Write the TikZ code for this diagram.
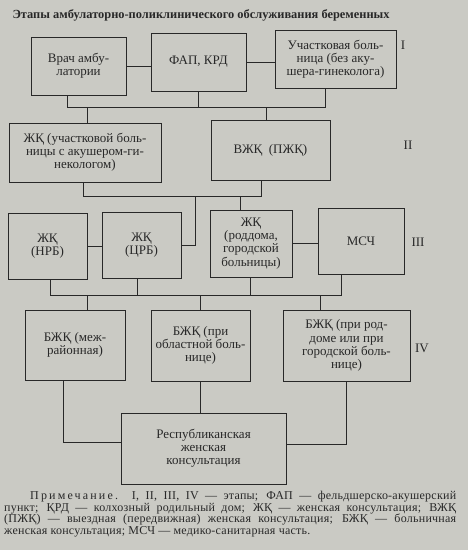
\documentclass[tikz,border=0pt]{standalone}
\usepackage{fontspec}
\setmainfont{Liberation Serif}
\usepackage{tikz}
\definecolor{paper}{RGB}{202,202,196}
\definecolor{ink}{RGB}{40,40,40}

\tikzset{
  box/.style={draw=ink, line width=0.9pt, inner sep=2pt, align=center,
    text=ink, font=\fontsize{13}{13.2}\selectfont},
  link/.style={draw=ink, line width=0.8pt},
}

\begin{document}
\begin{tikzpicture}[x=1pt,y=-1pt]
            \fill[paper] (0,0) rectangle (468,550);
            \useasboundingbox (0,0) rectangle (468,550);

            \node[anchor=west, text=ink, font=\bfseries\fontsize{12.4}{12}\selectfont] (title) at (9,15)
                {Этапы амбулаторно-поликлинического обслуживания беременных};

             %row I
            \node[box, minimum width=95pt, minimum height=58pt] (vrach) at (78.5,66) {Врач амбу-\\латории};
            \node[box, minimum width=95pt, minimum height=58pt] (fap) at (198.5,62) {ФАП, КРД};
            \node[box, minimum width=121pt, minimum height=58pt] (uchbol) at (335.5,59)
                {Участковая боль-\\ница (без аку-\\шера-гинеколога)};
             %row II
            \node[box, minimum width=152pt, minimum height=59pt] (zhkuch) at (85,152.5)
                {ЖҚ (участковой боль-\\ницы с акушером-ги-\\некологом)};
            \node[box, minimum width=119pt, minimum height=60pt] (vzhk) at (270.5,150) {ВЖҚ \ (ПЖҚ)};
             %row III
            \node[box, minimum width=79pt, minimum height=66pt] (zhknrb) at (47.5,246) {ЖҚ\\(НРБ)};
            \node[box, minimum width=79pt, minimum height=66pt] (zhkcrb) at (141.5,245) {ЖҚ\\(ЦРБ)};
            \node[box, minimum width=82pt, minimum height=67pt] (zhkrod) at (251,243.5)
                {ЖҚ\\(роддома,\\городской\\больницы)};
            \node[box, minimum width=86pt, minimum height=66pt] (msch) at (361,241) {МСЧ};
             %row IV
            \node[box, minimum width=100pt, minimum height=70pt] (bzhkmr) at (75,345) {БЖҚ (меж-\\районная)};
            \node[box, minimum width=99pt, minimum height=71pt] (bzhkobl) at (200.5,345.5)
                {БЖҚ (при\\областной боль-\\нице)};
            \node[box, minimum width=127pt, minimum height=71pt] (bzhkgor) at (346.5,345.5)
                {БЖҚ (при род-\\доме или при\\городской боль-\\нице)};
             %row V
            \node[box, minimum width=165pt, minimum height=71pt] (rzk) at (203.5,448.5)
                {Республиканская\\женская\\консультация};

             %stages
                 \foreach \st/\x/\y in {I/403/45, II/408/145, III/418/242, IV/422/348}
                     \node[text=ink, font=\fontsize{13}{13}\selectfont] (stage\st) at (\x,\y) {\st};

             %links
            \coordinate (busI) at (0,107);
            \coordinate (busII) at (0,196);
            \coordinate (busIII) at (0,295);

            \draw[link] (vrach.east) -- (vrach.east -| fap.west);
            \draw[link] (fap.east) -- (fap.east -| uchbol.west);
            \draw[link] ([xshift=-11pt]vrach.south) |- ([xshift=-10pt]uchbol.south |- busI)
                -- ([xshift=-10pt]uchbol.south);
            \draw[link] (fap.south) -- (fap.south |- busI);
            \draw[link] ([xshift=2pt]zhkuch.north) -- ([xshift=2pt]zhkuch.north |- busI);
            \draw[link] ([xshift=-4pt]vzhk.north) -- ([xshift=-4pt]vzhk.north |- busI);

            \draw[link] ([xshift=-2pt]zhkuch.south) |- ([xshift=-9.5pt]vzhk.south |- busII)
                -- ([xshift=-9.5pt]vzhk.south);
            \draw[link] (zhkcrb.east) -| ([xshift=14pt]zhkcrb.east |- busII);
            \draw[link] ([xshift=-11pt]zhkrod.north) -- ([xshift=-11pt]zhkrod.north |- busII);

            \draw[link] (zhknrb.east) -- (zhknrb.east -| zhkcrb.west);
            \draw[link] (zhkrod.east) -- (zhkrod.east -| msch.west);
            \draw[link] ([xshift=2.5pt]zhknrb.south) |- ([xshift=-20pt]msch.south |- busIII)
                -- ([xshift=-20pt]msch.south);
            \draw[link] ([xshift=-4.5pt]zhkcrb.south) -- ([xshift=-4.5pt]zhkcrb.south |- busIII);
            \draw[link] ([xshift=-1pt]zhkrod.south) -- ([xshift=-1pt]zhkrod.south |- busIII);
            \draw[link] ([xshift=12pt]bzhkmr.north) -- ([xshift=12pt]bzhkmr.north |- busIII);
            \draw[link] (bzhkobl.north) -- (bzhkobl.north |- busIII);
            \draw[link] ([xshift=-26.5pt]bzhkgor.north) -- ([xshift=-26.5pt]bzhkgor.north |- busIII);

            \draw[link] ([xshift=-12pt]bzhkmr.south) |- ([yshift=6.5pt]rzk.west);
            \draw[link] (bzhkobl.south) -- (bzhkobl.south |- rzk.north);
            \draw[link] (bzhkgor.south) |- ([yshift=4.5pt]rzk.east);

             %note
            \node[anchor=north west, inner sep=0pt, text width=452pt, align=justify, text=ink,
                font=\addfontfeature{LetterSpace=2}\fontsize{12}{11.7}\selectfont] (note) at (4,491)
                {\hspace*{26pt}{\addfontfeature{LetterSpace=18}Примечание.} I, II, III, IV~— этапы; ФАП~— фельдшерско-акушерский\linebreak
                 пункт; ҚРД~— колхозный родильный дом; ЖҚ~— женская консультация; ВЖҚ\linebreak
                 (ПЖҚ)~— выездная (передвижная) женская консультация; БЖҚ~— больничная\linebreak
                 женская консультация; МСЧ~— медико-санитарная часть.};
\end{tikzpicture}
\end{document}
